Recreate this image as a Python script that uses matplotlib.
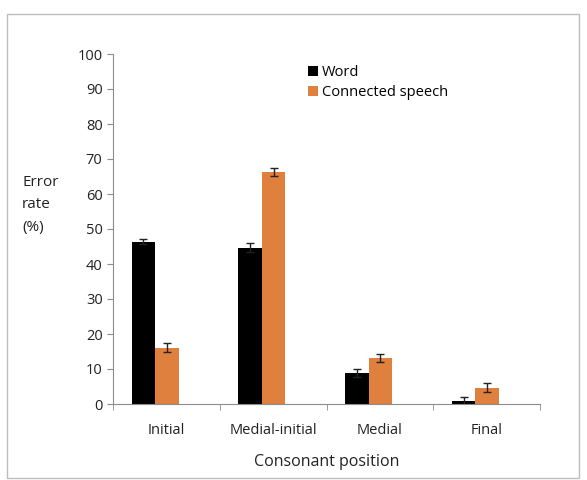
import matplotlib.pyplot as plt
import numpy as np
from matplotlib.patches import Rectangle

plt.rc("font", family=["Open Sans", "DejaVu Sans"])

categories = ["Initial", "Medial-initial", "Medial", "Final"]
word = [46.4, 44.7, 8.8, 0.9]
word_err = [0.7, 1.2, 1.1, 1.2]
speech = [16.1, 66.3, 13.2, 4.7]
speech_err = [1.2, 1.2, 1.1, 1.2]

black = "#000000"
orange = "#E0803F"
grey = "#8C8C8C"


def plot_chart():
    fig = plt.figure(figsize=(5.87, 4.80), dpi=100)
    fig.patches.append(Rectangle((7 / 587, 2 / 480), 572 / 587, 464 / 480,
                                 transform=fig.transFigure, fill=False,
                                 edgecolor="#BDBDBD", lw=1))
    ax = fig.add_axes([113 / 587, 76 / 480, 427 / 587, 350 / 480])

    x = np.arange(len(categories))
    w = 0.22
    shift = -0.105
    ax.bar(x + shift - w / 2, word, w, color=black, label="Word",
           yerr=word_err, capsize=3, error_kw=dict(ecolor="#222222", lw=1))
    ax.bar(x + shift + w / 2, speech, w, color=orange, label="Connected speech",
           yerr=speech_err, capsize=3, error_kw=dict(ecolor="#222222", lw=1))

    ax.set_xlim(-0.5, len(categories) - 0.5)
    ax.set_ylim(0, 100)
    ax.set_yticks(np.arange(0, 101, 10))
    ax.set_xticks(x)
    ax.set_xticklabels(categories, fontsize=10.5, color="#222222")
    ax.set_xticks(np.arange(-0.5, len(categories), 1), minor=True)
    ax.tick_params(axis="x", which="major", length=0, pad=14)
    ax.tick_params(axis="x", which="minor", length=4, color=grey)
    ax.tick_params(axis="y", length=4, color=grey, labelsize=10.5,
                   labelcolor="#222222")

    for s in ["top", "right"]:
        ax.spines[s].set_visible(False)
    for s in ["left", "bottom"]:
        ax.spines[s].set_color(grey)

    ax.set_xlabel("Consonant position", fontsize=11.5, color="#222222", labelpad=11)
    fig.text(22 / 587, 1 - 205 / 480, "Error\nrate\n(%)", fontsize=11,
             color="#222222", va="center", ha="left", linespacing=1.65)

    ax.legend(loc="upper left", bbox_to_anchor=(0.425, 1.005), frameon=False,
              fontsize=10.5, handlelength=0.7, handleheight=0.7,
              handletextpad=0.3, labelspacing=0.3)

    plt.savefig("out.png", dpi=100)


if __name__ == '__main__':
    plot_chart()
